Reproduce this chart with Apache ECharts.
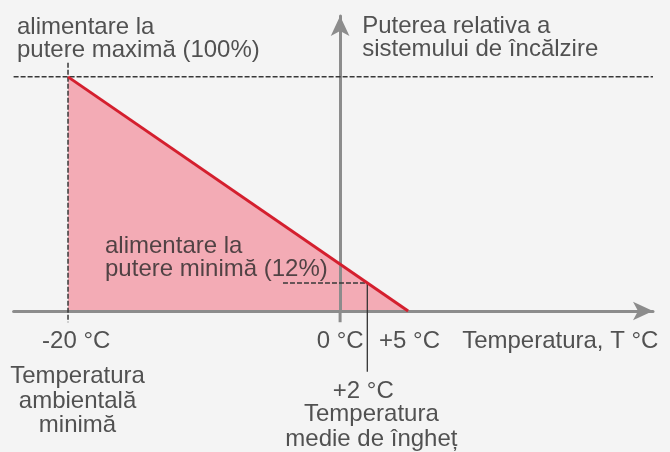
<!DOCTYPE html>
<html><head><meta charset="utf-8">
<script src="https://cdn.jsdelivr.net/npm/echarts@6/dist/echarts.min.js"></script>
<style>html,body{margin:0;padding:0;background:#f4f4f4}#c{width:670px;height:452px}</style>
</head><body><div id="c"></div>
<script>
// ---- data ----
const temperatures = [-20, 5];          // °C
const relativePower = [100, 0];         // %
const maxPower = 100;                   // %
const minPower = 12;                    // %
const minAmbientTemp = -20;             // °C
const zeroTemp = 0;                     // °C
const freezeTemp = 2;                   // °C
const upperTemp = 5;                    // °C
const tickLabels = ['-20 °C', '0 °C', '+5 °C', '+2 °C'];
const noteTexts = [
  'alimentare la\nputere maximă (100%)',
  'Puterea relativa a\nsistemului de încălzire',
  'alimentare la\nputere minimă (12%)',
  'Temperatura\nambientală\nminimă',
  'Temperatura, T °C',
  'Temperatura\nmedie de îngheț'
];

// ---- chart ----
const font = 'Liberation Sans, Arial, Helvetica, sans-serif';
const txtColor = '#282828';
const axisColor = '#8c8c8c';
const dashColor = '#383838';

function seg(a, b, style, z) {
  return {
    type: 'line', clip: false, silent: true, symbol: 'none', z: z || 3,
    lineStyle: style, data: [a, b], animation: false
  };
}

const chart = echarts.init(document.getElementById('c'), null, {renderer: 'canvas'});
chart.setOption({
  backgroundColor: '#f4f4f4',
  animation: false,
  grid: {left: 13.6, right: 17, top: 16, bottom: 141, containLabel: false},
  xAxis: {
    type: 'value', min: -24, max: 23, z: 3,
    axisLine: {show: true, onZero: true, symbol: ['none', 'arrow'], symbolSize: [14, 20],
      lineStyle: {color: axisColor, width: 3}},
    axisTick: {show: false}, axisLabel: {show: false}, splitLine: {show: false}
  },
  yAxis: {
    type: 'value', min: 0, max: 126, z: 3,
    axisLine: {show: true, onZero: true, symbol: ['none', 'arrow'], symbolSize: [14, 20],
      lineStyle: {color: axisColor, width: 3}},
    axisTick: {show: false}, axisLabel: {show: false}, splitLine: {show: false}
  },
  series: [
    // pink area
    {
      type: 'line', z: 1, symbol: 'none', silent: true,
      lineStyle: {width: 0},
      areaStyle: {color: '#f3abb5', opacity: 1},
      data: temperatures.map((t, i) => [t, relativePower[i]])
    },
    // red line
    {
      type: 'line', z: 5, symbol: 'none', silent: true,
      lineStyle: {color: '#d41f2e', width: 3},
      data: temperatures.map((t, i) => [t, relativePower[i]])
    },
    // reference lines
    seg([-24, maxPower], [23, maxPower], {color: dashColor, width: 1.5, type: [5, 2]}),
    seg([minAmbientTemp, 106], [minAmbientTemp, -4.8], {color: dashColor, width: 1.5, type: [5, 2]}),
    seg([-4.2, minPower], [freezeTemp, minPower], {color: dashColor, width: 1.5, type: [5, 2]}),
    seg([freezeTemp, minPower], [freezeTemp, -26], {color: '#333', width: 1.3}),
    seg([zeroTemp, 0], [zeroTemp, -4.8], {color: axisColor, width: 3}),
    // texts
    {
      type: 'scatter', clip: false, silent: true, z: 8, symbolSize: 0.1,
      itemStyle: {color: 'rgba(0,0,0,0)'},
      label: {
        show: true, position: 'inside', formatter: p => p.name,
        fontFamily: font, fontSize: 24, color: txtColor, lineHeight: 23,
        verticalAlign: 'middle'
      },
      data: [
        {name: noteTexts[0], value: [-23.75, 116.4], label: {align: 'left'}},
        {name: noteTexts[1], value: [1.62, 116.8], label: {align: 'left'}},
        {name: noteTexts[2], value: [-17.28, 22.9], label: {align: 'left'}},
        {name: tickLabels[0], value: [minAmbientTemp + 0.6, -12.8], label: {align: 'center'}},
        {name: noteTexts[3], value: [-19.3, -38.6], label: {align: 'center', lineHeight: 24.5}},
        {name: tickLabels[1], value: [zeroTemp, -12.8], label: {align: 'center'}},
        {name: tickLabels[2], value: [upperTemp + 0.1, -12.8], label: {align: 'center'}},
        {name: noteTexts[4], value: [8.97, -12.8], label: {align: 'left'}},
        {name: tickLabels[3], value: [freezeTemp - 0.3, -34.2], label: {align: 'center'}},
        {name: noteTexts[5], value: [freezeTemp + 0.3, -49.7], label: {align: 'center', lineHeight: 25}}
      ]
    }
  ]
});
</script>
</body></html>
